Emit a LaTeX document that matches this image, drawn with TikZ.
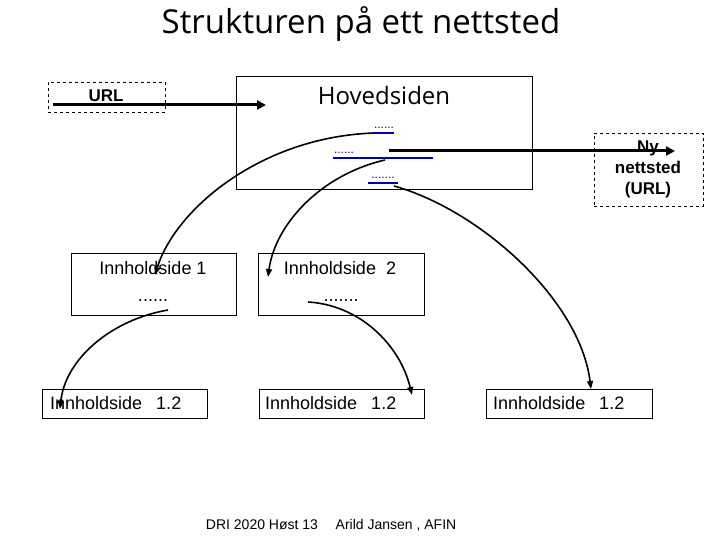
\documentclass[tikz,border=0pt]{standalone}
\usepackage{fontspec}
\setmainfont{Liberation Sans}
\newfontfamily\comic{Open Sans}
\usetikzlibrary{arrows.meta}
\definecolor{linkblue}{RGB}{0,0,170}
\tikzset{
  box/.style={draw=black, line width=0.8pt, inner sep=0pt},
  dbox/.style={draw=black, dashed, line width=0.8pt, inner sep=0pt},
  lbl/.style={inner sep=0pt, font=\fontsize{18}{20}\selectfont},
  linktxt/.style={inner sep=0pt, text=linkblue, font=\fontsize{12}{12}\selectfont},
  curvearrow/.style={line width=1.6pt, -{Triangle[length=8pt,width=6pt]}},
  thickarrow/.style={line width=3pt, -{Triangle[length=9pt,width=9pt]}},
  uline/.style={draw=linkblue, line width=1.2pt}
}
\begin{document}
\begin{tikzpicture}[x=1pt,y=-1pt]
\useasboundingbox (0,0) rectangle (720,540);
% title
\node[inner sep=0pt, font=\comic\fontsize{33}{35}\selectfont] (title) at (361,24) {Strukturen på ett nettsted};
% main page
\node[box, minimum width=296pt, minimum height=113pt] (hov) at (384,132.5) {};
\node[inner sep=0pt, font=\comic\fontsize{24}{26}\selectfont] (hovtxt) at (384,96) {Hovedsiden};
% URL box
\node[dbox, minimum width=117pt, minimum height=30pt] (url) at (106.5,97) {};
\node[inner sep=0pt, font=\bfseries\fontsize{17}{18}\selectfont] (urltxt) at (106,97) {\underline{URL}};
% Ny nettsted box
\node[dbox, minimum width=109pt, minimum height=73pt] (ny) at (648.5,169.5) {};
\node[inner sep=0pt, align=center, font=\bfseries\fontsize{17}{21}\selectfont] (nytxt) at (648,169) {Ny\\nettsted\\(URL)};
% links in main page
\node[linktxt] (l1) at (384,128) {......};
\node[linktxt] (l2a) at (344,153) {......};
\node[linktxt] (l2b) at (409,151) {........};
\node[linktxt] (l3) at (383,178) {.......};
\draw[uline] (374,133) -- (394,133);
\draw[uline] (333,158) -- (433,158);
\draw[uline] (368,183) -- (398,183);
% content pages
\node[box, minimum width=165pt, minimum height=62pt] (b1) at (153.5,284) {};
\node[lbl] (b1t) at (153,268) {Innholdside 1};
\node[lbl] (b1d) at (153,301) {......};
\node[box, minimum width=166pt, minimum height=62pt] (b2) at (341,284) {};
\node[lbl] (b2t) at (340,268) {Innholdside\hspace{5pt} 2};
\node[lbl] (b2d) at (341,301) {.......};
% sub pages
\node[box, minimum width=165pt, minimum height=29pt] (bA) at (124.5,403.5) {};
\node[lbl, anchor=west] (bAt) at (50,403) {Innholdside\hspace{9pt} 1.2};
\node[box, minimum width=165pt, minimum height=29pt] (bB) at (341.5,403.5) {};
\node[lbl, anchor=west] (bBt) at (265,403) {Innholdside\hspace{9pt} 1.2};
\node[box, minimum width=166pt, minimum height=29pt] (bC) at (569,403.5) {};
\node[lbl, anchor=west] (bCt) at (493,403) {Innholdside\hspace{9pt} 1.2};
% footer
\node[inner sep=0pt, font=\fontsize{14}{14}\selectfont] (f1) at (262,525) {DRI 2020 Høst 13};
\node[inner sep=0pt, font=\fontsize{14}{14}\selectfont] (f2) at (396,525) {Arild Jansen , AFIN};
% connector coordinates
\coordinate (urlS) at (53,105);
\coordinate (urlE) at (266,105);
\coordinate (nyS) at (389,151);
\coordinate (nyE) at (675,151);
\coordinate (c1s) at (374,133);
\coordinate (c1e) at (155,275);
\coordinate (c2s) at (385,160);
\coordinate (c2e) at (268,277);
\coordinate (c3s) at (394,186);
\coordinate (c3e) at (591,389);
\coordinate (c4s) at (168,310);
\coordinate (c4e) at (60,409);
\coordinate (c5s) at (308,302);
\coordinate (c5e) at (412,395);
% connectors
\draw[thickarrow] (urlS) -- (urlE);
\draw[thickarrow] (nyS) -- (nyE);
\draw[curvearrow] (c1s) .. controls (260,137) and (175,210) .. (c1e);
\draw[curvearrow] (c2s) .. controls (320,175) and (275,225) .. (c2e);
\draw[curvearrow] (c3s) .. controls (480,210) and (580,300) .. (c3e);
\draw[curvearrow] (c4s) .. controls (110,320) and (65,360) .. (c4e);
\draw[curvearrow] (c5s) .. controls (360,305) and (400,345) .. (c5e);
\end{tikzpicture}
\end{document}
